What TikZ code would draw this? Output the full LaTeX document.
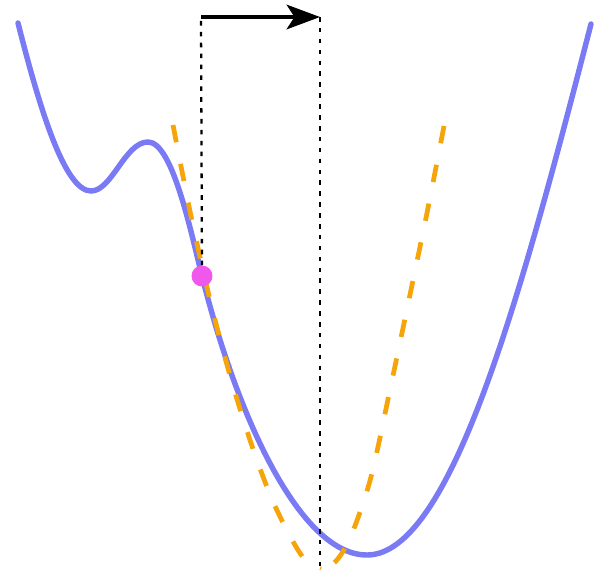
\documentclass[tikz,border=0pt]{standalone}
\usetikzlibrary{arrows.meta}
\definecolor{curveblue}{RGB}{122,122,245}
\definecolor{quadorange}{RGB}{245,165,10}
\definecolor{iterpink}{RGB}{240,88,235}
\begin{document}
\begin{tikzpicture}[x=0.02cm, y=-0.02cm,
        objective/.style={curveblue, line width=3.1pt, line cap=round},
        quadratic/.style={quadorange, line width=2.7pt, dash pattern=on 10pt off 12.5pt},
        guide/.style={black, line width=1.3pt, dash pattern=on 2.6pt off 3.6pt},
        steparrow/.style={-{Stealth[length=19pt, width=14pt, inset=4.5pt]}, line width=2.1pt},
        iterate/.style={circle, fill=iterpink, inner sep=0pt, minimum size=0.42cm}]
        \useasboundingbox (0,0) rectangle (609,569);

        % Objective
        \draw[objective] (18,23) .. controls (40,110) and (65,191) .. (91,191)
            .. controls (112,191) and (125,142) .. (148,142)
            .. controls (172,142) and (190,228) .. (202,276)
            .. controls (237,416) and (300,555) .. (367,555)
            .. controls (450,555) and (520,300) .. (591,24);

        % Quadratic model (both arms drawn from the top down)
        \draw[quadratic] plot[smooth] coordinates {(173,125) (191,216) (211,304) (231,379)
            (251,443) (271,497) (291,538) (306,561) (321,569)};
        \draw[quadratic] plot[smooth] coordinates {(444,126) (428,208) (411,290) (391,385)
            (371,477) (351,536) (336,561) (321,569)};

        % Current point and step
        \node[iterate] (pt) at (202,276) {};
        \coordinate (top0) at (201,17);
        \coordinate (top1) at (320,17);
        \coordinate (bot1) at (320,568);
        \draw[guide] (pt) -- (top0);
        \draw[guide] (top1) -- (bot1);
        \draw[steparrow] (top0) -- (top1);

    \end{tikzpicture}
\end{document}
